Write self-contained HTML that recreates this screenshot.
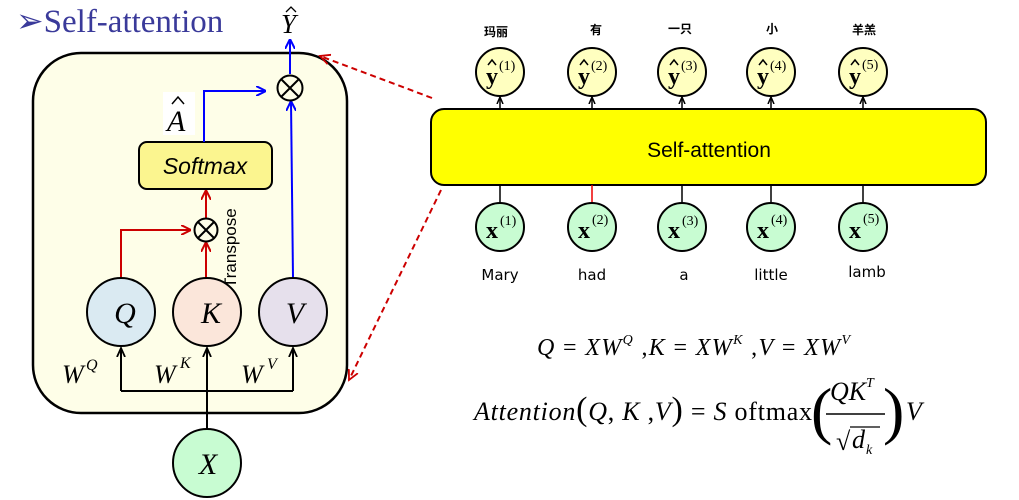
<!DOCTYPE html>
<html><head><meta charset="utf-8"><style>body{margin:0;background:#fff}svg{display:block}</style></head><body>
<svg width="1019" height="500" viewBox="0 0 1019 500" xmlns="http://www.w3.org/2000/svg">
<defs>
<marker id="ab" markerWidth="10" markerHeight="10" refX="9" refY="5" orient="auto" markerUnits="userSpaceOnUse"><path d="M0,0 L10,5 L0,10" fill="none" stroke="#00f" stroke-width="2"/></marker>
<marker id="ar" markerWidth="10" markerHeight="10" refX="9" refY="5" orient="auto" markerUnits="userSpaceOnUse"><path d="M0,0 L10,5 L0,10" fill="none" stroke="#c00" stroke-width="2"/></marker>
<marker id="ak" markerWidth="10" markerHeight="10" refX="9" refY="5" orient="auto" markerUnits="userSpaceOnUse"><path d="M0,1 L9,5 L0,9" fill="none" stroke="#000" stroke-width="1.8"/></marker>
<marker id="ak2" markerWidth="8" markerHeight="8" refX="7" refY="4" orient="auto" markerUnits="userSpaceOnUse"><path d="M0,1 L7,4 L0,7" fill="none" stroke="#000" stroke-width="1.5"/></marker>
<marker id="ad" markerWidth="12" markerHeight="12" refX="10" refY="6" orient="auto" markerUnits="userSpaceOnUse"><path d="M0,1 L10,6 L0,11" fill="none" stroke="#c00" stroke-width="1.8"/></marker>
</defs>
<!-- title -->
<text x="16" y="32" font-family="Liberation Serif,serif" font-size="33" fill="#3a3a9a">➢Self-attention</text>
<text x="281" y="33" font-family="Liberation Serif,serif" font-size="27" font-style="italic">Y</text>
<path d="M286,12 L291,7 L296,12" fill="none" stroke="#000" stroke-width="1.3"/>
<!-- inner box -->
<rect x="33" y="53" width="314" height="360" rx="48" fill="#fefee8" stroke="#000" stroke-width="2.5"/>
<!-- softmax -->
<rect x="139" y="142" width="133" height="47" rx="8" fill="#fbf58f" stroke="#000" stroke-width="2"/>
<text x="205" y="174" font-family="Liberation Sans,sans-serif" font-size="23" font-style="italic" text-anchor="middle">Softmax</text>
<rect x="163" y="92" width="32" height="43" fill="#fff"/>
<text x="167" y="131" font-family="Liberation Serif,serif" font-size="30" font-style="italic">A</text>
<path d="M172,104 L178,97 L184,104" fill="none" stroke="#000" stroke-width="1.5"/>
<!-- blue -->
<polyline points="204,142 204,91 265,91" fill="none" stroke="#00f" stroke-width="2" marker-end="url(#ab)"/>
<line x1="293" y1="278" x2="291" y2="102" stroke="#00f" stroke-width="2" marker-end="url(#ab)"/>
<line x1="290" y1="74" x2="290" y2="40" stroke="#00f" stroke-width="2" marker-end="url(#ab)"/>
<circle cx="290" cy="88" r="12.5" fill="none" stroke="#000" stroke-width="2"/>
<path d="M281,79 L299,97 M299,79 L281,97" stroke="#000" stroke-width="2"/>
<!-- red -->
<polyline points="121,278 121,230 190,230" fill="none" stroke="#c00" stroke-width="2" marker-end="url(#ar)"/>
<line x1="206" y1="278" x2="206" y2="243" stroke="#c00" stroke-width="2" marker-end="url(#ar)"/>
<line x1="206" y1="218" x2="206" y2="191" stroke="#c00" stroke-width="2" marker-end="url(#ar)"/>
<circle cx="206" cy="230" r="11.5" fill="none" stroke="#000" stroke-width="2"/>
<path d="M198,222 L214,238 M214,222 L198,238" stroke="#000" stroke-width="2"/>
<text transform="translate(236,288) rotate(-90)" font-family="Liberation Sans,sans-serif" font-size="17">Transpose</text>
<!-- QKV -->
<circle cx="121" cy="312" r="34" fill="#daeaf2" stroke="#000" stroke-width="2"/>
<circle cx="207" cy="312" r="34" fill="#fbe6da" stroke="#000" stroke-width="2"/>
<circle cx="293" cy="312" r="34" fill="#e6e0ec" stroke="#000" stroke-width="2"/>
<!-- black tree -->
<polyline points="121,391 121,348" fill="none" stroke="#000" stroke-width="2" marker-end="url(#ak)"/>
<polyline points="293,391 293,348" fill="none" stroke="#000" stroke-width="2" marker-end="url(#ak)"/>
<line x1="121" y1="391" x2="293" y2="391" stroke="#000" stroke-width="2"/>
<line x1="207" y1="429" x2="207" y2="348" stroke="#000" stroke-width="2" marker-end="url(#ak)"/>
<circle cx="207" cy="463" r="34" fill="#c8fcd2" stroke="#000" stroke-width="2"/>
<g font-family="Liberation Serif,serif" font-size="30" font-style="italic" text-anchor="middle">
<text x="125" y="323">Q</text><text x="211" y="323">K</text><text x="295" y="323">V</text>
<text x="208" y="474">X</text></g>
<g font-family="Liberation Serif,serif" font-size="26" font-style="italic">
<text x="62" y="383">W</text><text x="86" y="370" font-size="16">Q</text>
<text x="154" y="383">W</text><text x="180" y="368" font-size="16">K</text>
<text x="241" y="383">W</text><text x="267" y="369" font-size="16">V</text></g>
<!-- dashed -->
<line x1="432" y1="98" x2="320" y2="56" stroke="#c00" stroke-width="2" stroke-dasharray="6,4" marker-end="url(#ad)"/>
<line x1="441" y1="190" x2="349" y2="380" stroke="#c00" stroke-width="2" stroke-dasharray="6,4" marker-end="url(#ad)"/>
<!-- right -->
<rect x="431" y="109" width="555" height="76" rx="13" fill="#ffff00" stroke="#000" stroke-width="2"/>
<text x="709" y="157" font-family="Liberation Sans,sans-serif" font-size="21" text-anchor="middle">Self-attention</text>
<g stroke="#000" stroke-width="1.5">
<line x1="500" y1="109" x2="500" y2="97" marker-end="url(#ak2)"/>
<line x1="592" y1="109" x2="592" y2="97" marker-end="url(#ak2)"/>
<line x1="682" y1="109" x2="682" y2="97" marker-end="url(#ak2)"/>
<line x1="771" y1="109" x2="771" y2="97" marker-end="url(#ak2)"/>
<line x1="863" y1="109" x2="863" y2="97" marker-end="url(#ak2)"/>
<line x1="500" y1="185" x2="500" y2="203"/>
<line x1="592" y1="185" x2="592" y2="203" stroke="#e00"/>
<line x1="682" y1="185" x2="682" y2="203"/>
<line x1="771" y1="185" x2="771" y2="203"/>
<line x1="863" y1="185" x2="863" y2="203"/>
</g>
<g stroke="#000" stroke-width="2" fill="#ffffc0">
<circle cx="500" cy="72" r="24"/><circle cx="592" cy="72" r="24"/><circle cx="682" cy="72" r="24"/><circle cx="771" cy="72" r="24"/><circle cx="863" cy="72" r="24"/>
</g>
<g stroke="#000" stroke-width="2" fill="#c8fcd2">
<circle cx="500" cy="227" r="24"/><circle cx="592" cy="227" r="24"/><circle cx="682" cy="227" r="24"/><circle cx="771" cy="227" r="24"/><circle cx="863" cy="227" r="24"/>
</g>
<g fill="none" stroke="#000" stroke-width="1.5">
<path d="M488,65 L492,60 L496,65"/><path d="M580,65 L584,60 L588,65"/><path d="M670,65 L674,60 L678,65"/><path d="M759,65 L763,60 L767,65"/><path d="M851,65 L855,60 L859,65"/>
</g>
<g font-family="Liberation Serif,serif">
<g font-size="24" font-weight="bold">
<text x="486" y="84">y</text><text x="578" y="84">y</text><text x="668" y="84">y</text><text x="757" y="84">y</text><text x="849" y="84">y</text>
<text x="486" y="238">x</text><text x="578" y="238">x</text><text x="668" y="238">x</text><text x="757" y="238">x</text><text x="849" y="238">x</text>
</g>
<g font-size="14">
<text x="499" y="70">(1)</text><text x="591" y="70">(2)</text><text x="681" y="70">(3)</text><text x="770" y="70">(4)</text><text x="862" y="69">(5)</text>
<text x="500" y="225">(1)</text><text x="592" y="224">(2)</text><text x="682" y="225">(3)</text><text x="771" y="224">(4)</text><text x="863" y="223">(5)</text>
</g></g>
<g font-family="Liberation Sans,'Noto Sans CJK SC',sans-serif" font-size="12" text-anchor="middle" font-weight="bold">
<text x="496" y="36">玛丽</text><text x="596" y="34">有</text><text x="680" y="33">一只</text><text x="772" y="33">小</text><text x="864" y="34">羊羔</text>
</g>
<g font-family="'DejaVu Sans',sans-serif" font-size="15" text-anchor="middle">
<text x="500" y="280">Mary</text><text x="592" y="280">had</text><text x="684" y="280">a</text><text x="771" y="280">little</text><text x="867" y="277">lamb</text>
</g>
<!-- formulas -->
<g font-family="Liberation Serif,serif" font-size="24">
<text x="537" y="355" textLength="313" lengthAdjust="spacing"><tspan font-style="italic">Q</tspan> = <tspan font-style="italic">XW</tspan><tspan font-size="14" dy="-11" font-style="italic">Q</tspan><tspan dy="11"> ,</tspan><tspan font-style="italic">K</tspan> = <tspan font-style="italic">XW</tspan><tspan font-size="14" dy="-11" font-style="italic">K</tspan><tspan dy="11"> ,</tspan><tspan font-style="italic">V</tspan> = <tspan font-style="italic">XW</tspan><tspan font-size="14" dy="-11" font-style="italic">V</tspan></text>
<text x="474" y="420" font-size="26" textLength="338" lengthAdjust="spacing"><tspan font-style="italic">Attention</tspan><tspan font-size="34">(</tspan><tspan font-style="italic">Q</tspan>, <tspan font-style="italic">K</tspan> ,<tspan font-style="italic">V</tspan><tspan font-size="34">)</tspan> = <tspan font-style="italic">S</tspan> oftmax</text>
<text x="811" y="432" font-size="64">(</text>
<text x="883" y="432" font-size="64">)</text>
<text x="906" y="420" font-size="26" font-style="italic">V</text>
<text x="830" y="400" font-size="26" font-style="italic">QK</text><text x="866" y="387" font-size="14" font-style="italic">T</text>
<line x1="826" y1="414" x2="885" y2="414" stroke="#000" stroke-width="1.5"/>
<text x="836" y="450" font-size="26">√</text><text x="852" y="448" font-size="26" font-style="italic">d</text><text x="866" y="454" font-size="14" font-style="italic">k</text>
<line x1="850" y1="427" x2="880" y2="427" stroke="#000" stroke-width="1.2"/>
</g>
</svg>
</body></html>
